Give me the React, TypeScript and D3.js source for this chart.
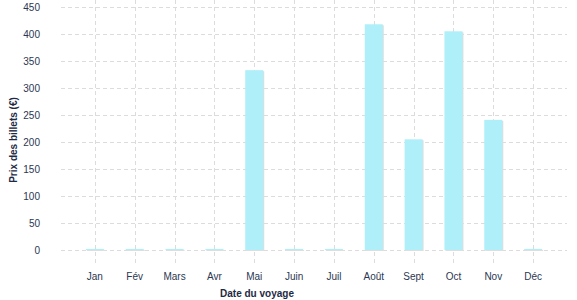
import React from "react";
import * as d3 from "d3";

const months = ["Jan", "Fév", "Mars", "Avr", "Mai", "Juin", "Juil", "Août", "Sept", "Oct", "Nov", "Déc"];
const prices = [2, 2, 2, 2, 333, 2, 2, 418, 205, 405, 241, 2];
const yTicks = [0, 50, 100, 150, 200, 250, 300, 350, 400, 450];

const W = 577;
const H = 300;

export default function App() {
  const x = d3.scalePoint<string>().domain(months).range([61, 567]).padding(0.85);
  const y = d3.scaleLinear().domain([0, 450]).range([250, 7]);
  const bw = 18;
  const font = "'Liberation Sans', Arial, sans-serif";
  return (
    <svg width={W} height={H} style={{ position: "absolute", left: 0, top: 0, display: "block" }}>
      <g stroke="#dcdcdc" strokeWidth={1} strokeDasharray="4,3">
        {yTicks.map((t) => (
          <line key={t} x1={61} x2={567} y1={Math.round(y(t)) + 0.5} y2={Math.round(y(t)) + 0.5} />
        ))}
        {months.map((m) => (
          <line key={m} x1={Math.round(x(m)!) + 0.5} x2={Math.round(x(m)!) + 0.5} y1={0} y2={265} />
        ))}
      </g>
      {months.map((m, i) => {
        const cx = x(m)!;
        const top = y(prices[i]);
        return (
          <g key={m}>
            <rect x={cx - bw / 2 + 1} y={top + 1} width={bw} height={y(0) - top} fill="#dedede" />
            <rect x={cx - bw / 2} y={top} width={bw} height={y(0) - top} fill="#aeeff9" />
          </g>
        );
      })}
      <g fontFamily={font} fontSize={10} fill="#2b3752">
        {yTicks.map((t) => (
          <text key={t} x={40} y={y(t) + 3.5} textAnchor="end">
            {t}
          </text>
        ))}
        {months.map((m) => (
          <text key={m} x={x(m)!} y={280} textAnchor="middle">
            {m}
          </text>
        ))}
      </g>
      <text x={257} y={297} textAnchor="middle" fontFamily={font} fontSize={10} fontWeight="bold" fill="#1e2a45">
        Date du voyage
      </text>
      <text
        transform={`translate(17,140) rotate(-90)`}
        textAnchor="middle"
        fontFamily={font}
        fontSize={10}
        fontWeight="bold"
        fill="#1e2a45"
      >
        Prix des billets (€)
      </text>
    </svg>
  );
}
